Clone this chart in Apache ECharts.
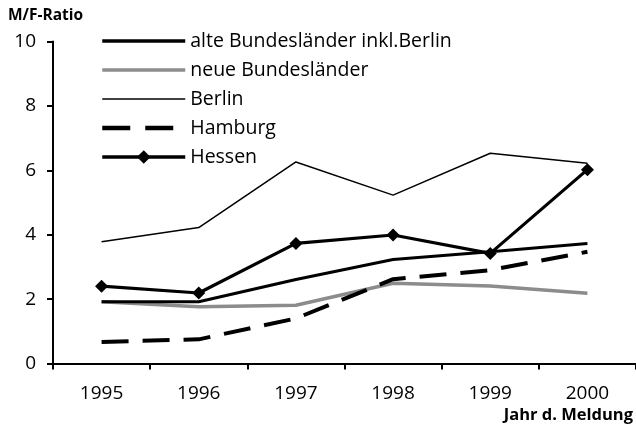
<!DOCTYPE html>
<html><head><meta charset="utf-8">
<script src="https://cdn.jsdelivr.net/npm/echarts@6/dist/echarts.min.js"></script>
<style>html,body{margin:0;padding:0;background:#fff}#c{width:636px;height:430px}</style>
</head><body><div id="c"></div>
<script>
const years = ['1995','1996','1997','1998','1999','2000'];
const alte = [1.92, 1.92, 2.61, 3.23, 3.47, 3.73];
const neue = [1.92, 1.76, 1.81, 2.49, 2.41, 2.18];
const berlin = [3.78, 4.22, 6.26, 5.23, 6.53, 6.22];
const hamburg = [0.67, 0.75, 1.40, 2.62, 2.90, 3.47];
const hessen = [2.40, 2.19, 3.73, 3.99, 3.42, 6.02];
const yTicks = [0, 2, 4, 6, 8, 10];
const names = ['alte Bundesländer inkl.Berlin','neue Bundesländer','Berlin','Hamburg','Hessen'];

const FONT = 'Open Sans';
const noSym = {color: 'rgba(0,0,0,0)', opacity: 0, borderWidth: 0};
const chart = echarts.init(document.getElementById('c'));
chart.setOption({
  animation: false,
  textStyle: {fontFamily: FONT},
  grid: {left: 53, top: 41.5, width: 588, height: 322, containLabel: false},
  legend: {
    orient: 'vertical', left: 100, top: 31, padding: 0, itemWidth: 83, itemHeight: 17, itemGap: 9,
    textStyle: {fontSize: 19.5, lineHeight: 19, color: '#000', fontFamily: FONT},
    data: [
      {name: names[0], itemStyle: noSym, lineStyle: {width: 3.5, color: '#000'}},
      {name: names[1], itemStyle: noSym, lineStyle: {width: 3.5, color: '#8c8c8c'}},
      {name: names[2], itemStyle: noSym, lineStyle: {width: 1.3, color: '#000'}},
      {name: names[3], itemStyle: noSym, lineStyle: {width: 4.5, color: '#000', type: [28, 15]}},
      {name: names[4], lineStyle: {width: 3.5, color: '#000'}}
    ]
  },
  xAxis: {
    type: 'category', data: years, boundaryGap: true,
    axisLine: {lineStyle: {color: '#000', width: 2}},
    axisTick: {show: true, length: 6, lineStyle: {color: '#000', width: 2}, alignWithLabel: false},
    axisLabel: {color: '#000', fontSize: 19, margin: 21, fontFamily: FONT},
    splitLine: {show: false}
  },
  yAxis: {
    type: 'value', min: yTicks[0], max: yTicks[yTicks.length-1], interval: 2,
    axisLine: {show: true, lineStyle: {color: '#000', width: 2}},
    axisTick: {show: true, length: 6, lineStyle: {color: '#000', width: 2}},
    axisLabel: {color: '#000', fontSize: 19, margin: 17, fontFamily: FONT},
    splitLine: {show: false}
  },
  graphic: [
    {type: 'text', left: 8, top: 8, style: {text: 'M/F-Ratio', font: 'bold 15.5px "' + FONT + '"', fill: '#000'}},
    {type: 'text', right: 3, top: 407, style: {text: 'Jahr d. Meldung', font: 'bold 16.5px "' + FONT + '"', fill: '#000'}}
  ],
  series: [
    {name: names[0], type: 'line', data: alte, symbol: 'none', lineStyle: {color: '#000', width: 3}, itemStyle: {color: '#000'}, z: 3},
    {name: names[1], type: 'line', data: neue, symbol: 'none', lineStyle: {color: '#8c8c8c', width: 3.5}, itemStyle: {color: '#8c8c8c'}, z: 2},
    {name: names[2], type: 'line', data: berlin, symbol: 'none', lineStyle: {color: '#000', width: 1.5}, itemStyle: {color: '#000'}, z: 2},
    {name: names[3], type: 'line', data: hamburg, symbol: 'none', lineStyle: {color: '#000', width: 4, type: [27, 14]}, itemStyle: {color: '#000'}, z: 3},
    {name: names[4], type: 'line', data: hessen, symbol: 'diamond', symbolSize: 13, lineStyle: {color: '#000', width: 3.2}, itemStyle: {color: '#000'}, z: 4}
  ]
});
</script></body></html>
